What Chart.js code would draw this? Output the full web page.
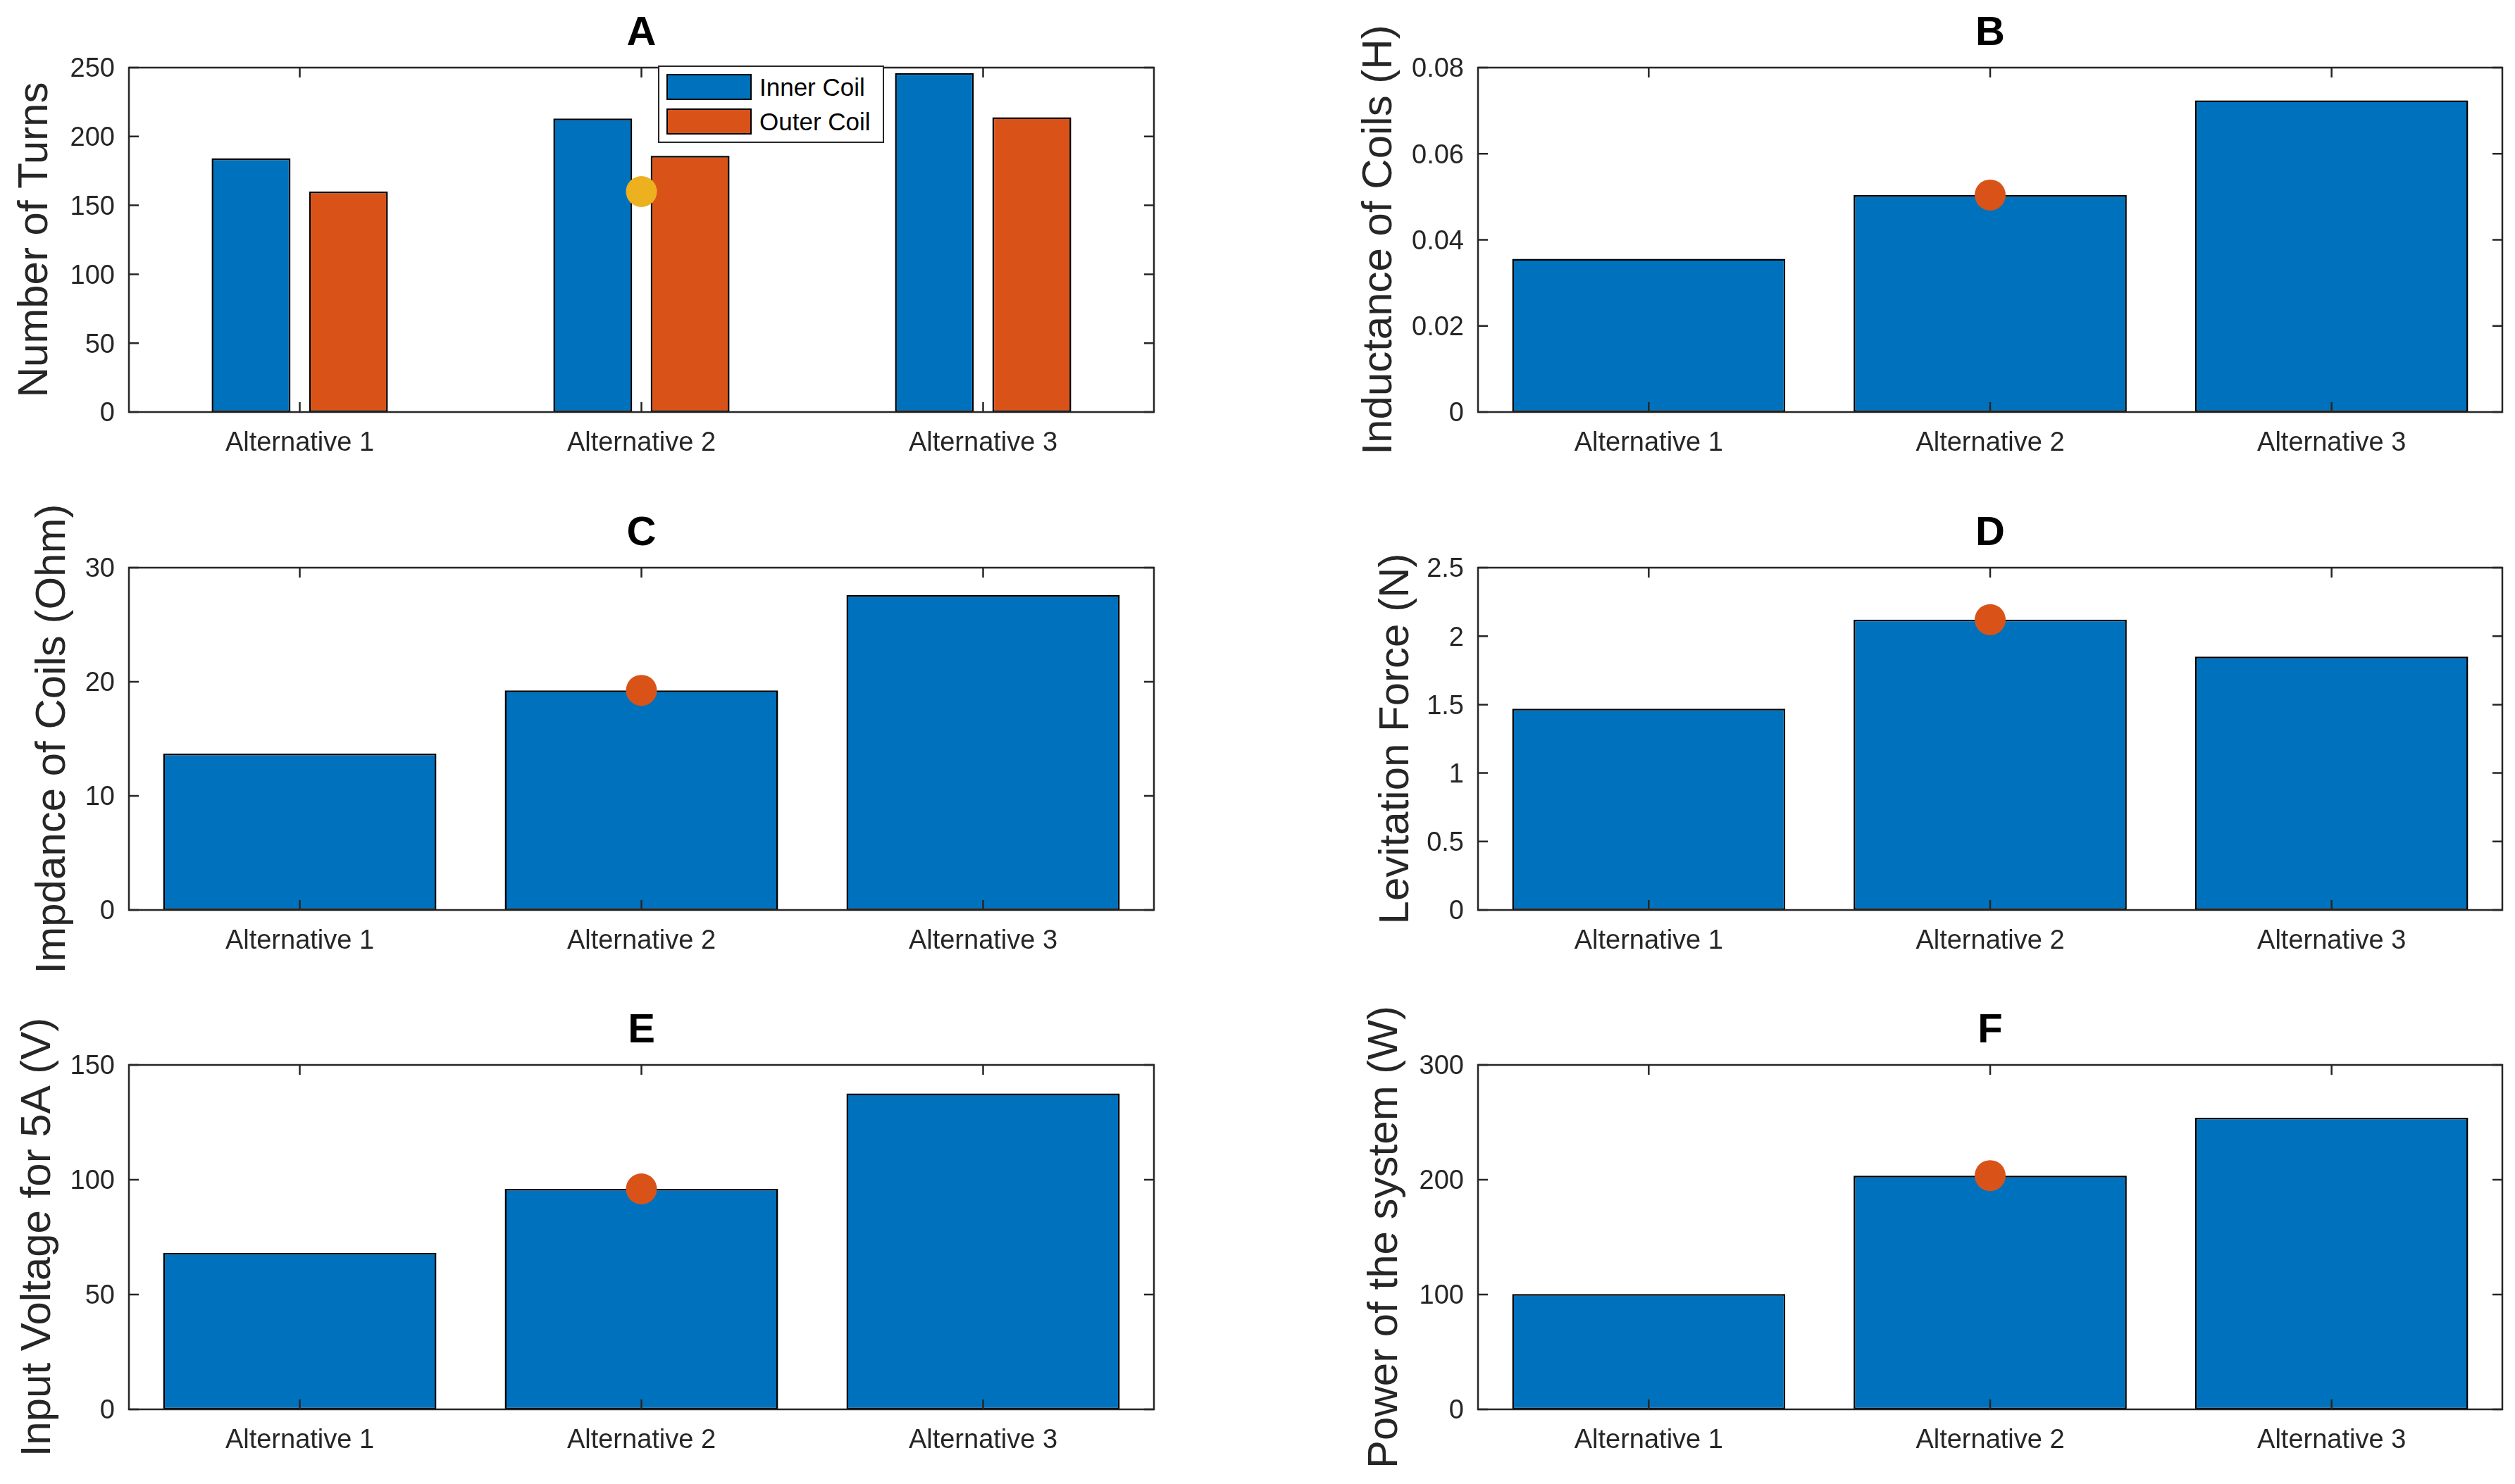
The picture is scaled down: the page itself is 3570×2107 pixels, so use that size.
<!DOCTYPE html>
<html>
<head>
<meta charset="utf-8">
<script src="https://cdn.jsdelivr.net/npm/chart.js@4.4.1/dist/chart.umd.min.js"></script>
<style>
  html, body { margin: 0; padding: 0; background: #fff; }
  #page { position: relative; width: 3570px; height: 2107px; overflow: hidden; background: #fff; }
  canvas { position: absolute; }
  #legendA {
    position: absolute; left: 934px; top: 93px; width: 321px; height: 110px;
    box-sizing: border-box; border: 2.5px solid #262626; background: #fff;
    font-family: "Liberation Sans", Arial, sans-serif; font-size: 35px; color: #000;
  }
  #legendA .sw {
    position: absolute; left: 10px; width: 121px; height: 37px;
    box-sizing: border-box; border: 2.5px solid #000;
  }
  #legendA .lb { position: absolute; left: 142px; height: 37px; line-height: 37px; white-space: nowrap; }
</style>
</head>
<body>
<div id="page">
  <canvas id="chartA"></canvas>
  <canvas id="chartB"></canvas>
  <canvas id="chartC"></canvas>
  <canvas id="chartD"></canvas>
  <canvas id="chartE"></canvas>
  <canvas id="chartF"></canvas>
  <div id="legendA">
    <div class="sw" style="top:10px;background:#0072BD"></div>
    <div class="lb" style="top:10px">Inner Coil</div>
    <div class="sw" style="top:59px;background:#D95319"></div>
    <div class="lb" style="top:59px">Outer Coil</div>
  </div>
</div>
<script>
// data
const categories = ['Alternative 1', 'Alternative 2', 'Alternative 3'];

const innerTurns = [184, 213, 246];
const outerTurns = [160, 186, 214];
const turnsMarker = [null, 160, null];
const turnsTicks = [0, 50, 100, 150, 200, 250];
const turnsTickLabels = ['0', '50', '100', '150', '200', '250'];

const inductance = [0.0356, 0.0504, 0.0724];
const inductanceMarker = [null, 0.0504, null];
const inductanceTicks = [0, 0.02, 0.04, 0.06, 0.08];
const inductanceTickLabels = ['0', '0.02', '0.04', '0.06', '0.08'];

const impedance = [13.7, 19.25, 27.6];
const impedanceMarker = [null, 19.25, null];
const impedanceTicks = [0, 10, 20, 30];
const impedanceTickLabels = ['0', '10', '20', '30'];

const levitation = [1.47, 2.12, 1.85];
const levitationMarker = [null, 2.12, null];
const levitationTicks = [0, 0.5, 1, 1.5, 2, 2.5];
const levitationTickLabels = ['0', '0.5', '1', '1.5', '2', '2.5'];

const voltage = [68.2, 96.0, 137.6];
const voltageMarker = [null, 96.0, null];
const voltageTicks = [0, 50, 100, 150];
const voltageTickLabels = ['0', '50', '100', '150'];

const power = [100.4, 203.6, 254];
const powerMarker = [null, 203.6, null];
const powerTicks = [0, 100, 200, 300];
const powerTickLabels = ['0', '100', '200', '300'];

const BLUE = '#0072BD';
const ORANGE = '#D95319';
const YELLOW = '#EDB120';
const AXIS = '#262626';
const FONT = '"Liberation Sans", Arial, Helvetica, sans-serif';
const TICK = 14;

// plot boxes (page pixels)
const Y_AXIS_W = 183, TITLE_BAND = 96, X_AXIS_H = 90, RIGHT_PAD = 18;
const boxes = {
  A: { left: 183, top: 96, right: 1638, bottom: 585 },
  B: { left: 2098, top: 96, right: 3552, bottom: 585 },
  C: { left: 183, top: 806, right: 1638, bottom: 1292 },
  D: { left: 2098, top: 806, right: 3552, bottom: 1292 },
  E: { left: 183, top: 1512, right: 1638, bottom: 2001 },
  F: { left: 2098, top: 1512, right: 3552, bottom: 2001 },
};

// MATLAB style box with inward ticks on all four sides
const matlabAxes = {
  id: 'matlabAxes',
  afterDatasetsDraw(chart) {
    const { ctx, chartArea: a, scales: { x, y } } = chart;
    ctx.save();
    ctx.strokeStyle = AXIS;
    ctx.lineWidth = 2.5;
    ctx.beginPath();
    x.ticks.forEach((t, i) => {
      const px = x.getPixelForTick(i);
      ctx.moveTo(px, a.bottom); ctx.lineTo(px, a.bottom - TICK);
      ctx.moveTo(px, a.top); ctx.lineTo(px, a.top + TICK);
    });
    y.ticks.forEach(t => {
      const py = y.getPixelForValue(t.value);
      ctx.moveTo(a.left, py); ctx.lineTo(a.left + TICK, py);
      ctx.moveTo(a.right, py); ctx.lineTo(a.right - TICK, py);
    });
    ctx.stroke();
    ctx.strokeRect(a.left, a.top, a.right - a.left, a.bottom - a.top);
    ctx.restore();
  }
};

function barSet(label, values, color, catPct, barPct) {
  return {
    type: 'bar',
    label: label,
    data: values,
    backgroundColor: color,
    borderColor: '#000',
    borderWidth: 2.5,
    borderSkipped: false,
    categoryPercentage: catPct,
    barPercentage: barPct,
    order: 1
  };
}

function markerSet(values, color) {
  return {
    type: 'line',
    label: 'selected',
    data: values,
    showLine: false,
    pointRadius: 22,
    pointHoverRadius: 22,
    pointBackgroundColor: color,
    pointBorderWidth: 0,
    order: 0
  };
}

function makePanel(key, title, yTitle, yTitlePad, datasets, ticks, tickLabels) {
  const box = boxes[key];
  const x0 = box.left - Y_AXIS_W;
  const y0 = box.top - TITLE_BAND;
  const canvas = document.getElementById('chart' + key);
  canvas.width = box.right - x0 + RIGHT_PAD;
  canvas.height = box.bottom - y0 + X_AXIS_H;
  canvas.style.left = x0 + 'px';
  canvas.style.top = y0 + 'px';

  new Chart(canvas, {
    type: 'bar',
    data: { labels: categories, datasets: datasets },
    options: {
      responsive: false,
      animation: false,
      devicePixelRatio: 1,
      layout: { autoPadding: false, padding: { left: 0, top: 0, right: RIGHT_PAD, bottom: 0 } },
      plugins: {
        legend: { display: false },
        tooltip: { enabled: false },
        title: {
          display: true,
          text: title,
          color: '#000',
          fullSize: false,
          font: { family: FONT, size: 58, weight: 'bold', lineHeight: 1 },
          padding: { top: 19, bottom: 19 }
        }
      },
      scales: {
        x: {
          type: 'category',
          offset: true,
          grid: { display: false, drawTicks: false },
          border: { display: false },
          ticks: { color: AXIS, font: { family: FONT, size: 38 }, padding: 22, maxRotation: 0, autoSkip: false },
          afterFit: s => { s.height = X_AXIS_H; }
        },
        y: {
          min: ticks[0],
          max: ticks[ticks.length - 1],
          grid: { display: false, drawTicks: false },
          border: { display: false },
          afterBuildTicks: s => { s.ticks = ticks.map(v => ({ value: v })); },
          ticks: {
            color: AXIS,
            font: { family: FONT, size: 38 },
            padding: 20,
            labelOffset: 3,
            callback: (v, i) => tickLabels[i]
          },
          title: {
            display: true,
            text: yTitle,
            color: AXIS,
            font: { family: FONT, size: 60, lineHeight: 1 },
            padding: { top: yTitlePad, bottom: 0 }
          },
          afterFit: s => { s.width = Y_AXIS_W; }
        }
      }
    },
    plugins: [matlabAxes]
  });
}

makePanel('A', 'A', 'Number of Turns', 20, [
  markerSet(turnsMarker, YELLOW),
  barSet('Inner Coil', innerTurns, BLUE, 0.57, 0.81),
  barSet('Outer Coil', outerTurns, ORANGE, 0.57, 0.81)
], turnsTicks, turnsTickLabels);

makePanel('B', 'B', 'Inductance of Coils (H)', 13, [
  markerSet(inductanceMarker, ORANGE),
  barSet('Inductance', inductance, BLUE, 0.8, 1)
], inductanceTicks, inductanceTickLabels);

makePanel('C', 'C', 'Impdance of Coils (Ohm)', 45, [
  markerSet(impedanceMarker, ORANGE),
  barSet('Impedance', impedance, BLUE, 0.8, 1)
], impedanceTicks, impedanceTickLabels);

makePanel('D', 'D', 'Levitation Force (N)', 37, [
  markerSet(levitationMarker, ORANGE),
  barSet('Levitation Force', levitation, BLUE, 0.8, 1)
], levitationTicks, levitationTickLabels);

makePanel('E', 'E', 'Input Voltage for 5A (V)', 24, [
  markerSet(voltageMarker, ORANGE),
  barSet('Input Voltage', voltage, BLUE, 0.8, 1)
], voltageTicks, voltageTickLabels);

makePanel('F', 'F', 'Power of the system (W)', 21, [
  markerSet(powerMarker, ORANGE),
  barSet('Power', power, BLUE, 0.8, 1)
], powerTicks, powerTickLabels);
</script>
</body>
</html>
